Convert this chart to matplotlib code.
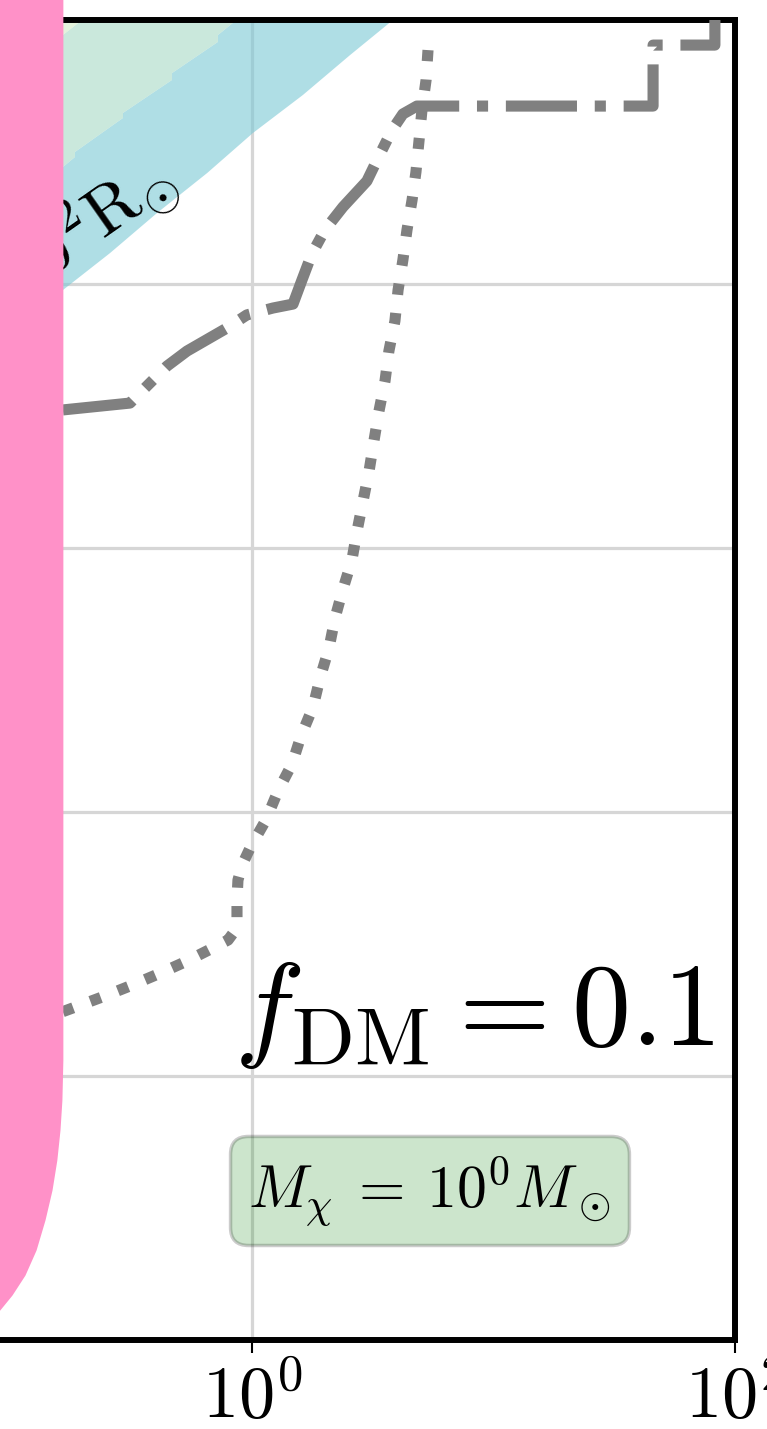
import numpy as np
import matplotlib
matplotlib.use("Agg")
import matplotlib.pyplot as plt
from matplotlib.ticker import FixedLocator, NullLocator, FuncFormatter

plt.rcParams['mathtext.fontset'] = 'cm'
plt.rcParams['font.family'] = ['serif']
plt.rcParams['font.serif'] = ['cmr10', 'DejaVu Serif']
plt.rcParams['axes.formatter.use_mathtext'] = True

# ---- axis ranges (log10 units) ----
xlim_exp = (-2, 2)
ylim_exp = (-3, 2)
xtick_exp = [-2, 0, 2]
ytick_exp = [-3, -2, -1, 0, 1, 2]

# ---- dotted bound (log10 x, log10 y) ----
dot_logx = [0.729, 0.721, 0.704, 0.692, 0.679, 0.663, 0.642, 0.625, 0.605, 0.592,
            0.567, 0.551, 0.526, 0.505, 0.485, 0.460, 0.435, 0.414, 0.377, 0.344,
            0.319, 0.282, 0.253, 0.203, 0.166, 0.108, 0.058, -0.004, -0.041, -0.058,
            -0.062, -0.062, -0.099, -0.162, -0.277, -0.389, -0.505, -0.621, -0.741,
            -0.878, -1.044, -1.292]
dot_logy = [1.886, 1.773, 1.659, 1.545, 1.424, 1.318, 1.205, 1.091, 0.977, 0.860,
            0.746, 0.633, 0.519, 0.405, 0.292, 0.178, 0.064, -0.045, -0.155, -0.265,
            -0.379, -0.492, -0.602, -0.712, -0.818, -0.920, -1.030, -1.129, -1.201, -1.258,
            -1.333, -1.439, -1.485, -1.515, -1.568, -1.614, -1.659, -1.701, -1.742,
            -1.788, -1.837, -1.902]

# ---- dash-dot bound ----
dd_logx = [-0.783, -0.505, -0.431, -0.352, -0.269, -0.104, -0.021, 0.087, 0.170,
           0.207, 0.248, 0.302, 0.377, 0.476, 0.522, 0.580, 0.625, 0.683, 1.661,
           1.661, 1.917, 1.917]
dd_logy = [0.523, 0.549, 0.617, 0.689, 0.746, 0.833, 0.883, 0.909, 0.924,
           1.015, 1.114, 1.205, 1.292, 1.390, 1.477, 1.583, 1.644, 1.674, 1.674,
           1.905, 1.905, 2.100]

# ---- shaded bands ----
blue_lo_logx = [-1.458, -1.044, -0.783, -0.588, -0.393, -0.186, 0.004, 0.211, 0.406, 0.584, 0.700]
blue_lo_logy = [0.477, 0.743, 0.977, 1.117, 1.269, 1.420, 1.572, 1.716, 1.867, 2.000, 2.090]

blue_hi_logx = [-1.458, -1.044, -0.783, -0.733, -0.733, -0.534, -0.534, -0.331, -0.331,
                -0.141, -0.141, -0.079, -0.008]
blue_hi_logy = [0.981, 1.356, 1.443, 1.481, 1.500, 1.629, 1.648, 1.773, 1.799,
                1.917, 1.943, 1.989, 2.090]

pale_lo_logx = [-1.458, -1.044, -0.783, -0.704, -0.629]
pale_lo_logy = [1.564, 1.792, 1.943, 2.000, 2.057]

# ---- excluded region (left edge) ----
pink_logx = [-0.783, -0.783, -0.787, -0.795, -0.808, -0.828, -0.857, -0.894,
             -0.940, -0.994, -1.044, -1.106, -1.168]
pink_logy = [2.250, -1.939, -2.091, -2.205, -2.318, -2.432, -2.545, -2.659,
             -2.754, -2.830, -2.886, -2.943, -3.000]

band_label = r'$10^{2}\mathrm{R}_{\odot}$'
band_label_pos = (-0.306, 1.366)
fdm_label = r'$f_{\rm DM} = 0.1$'
mass_label = r'$M_\chi\:=\:10^{0}M_\odot$'

p10 = lambda a: np.power(10.0, np.asarray(a, dtype=float))

fig = plt.figure(figsize=(7.67, 14.29), dpi=100)
ax = fig.add_axes([-0.3012, 0.06228, 1.2594, 0.92372])
ax.set_xscale('log')
ax.set_yscale('log')
ax.set_xlim(p10(xlim_exp[0]), p10(xlim_exp[1]))
ax.set_ylim(p10(ylim_exp[0]), p10(ylim_exp[1]))

# bands
ax.fill(p10(blue_lo_logx + blue_hi_logx[::-1]), p10(blue_lo_logy + blue_hi_logy[::-1]),
        color='#7bc8d5', alpha=0.6, lw=0, zorder=1)
ax.fill(p10(blue_hi_logx + pale_lo_logx[::-1]), p10(blue_hi_logy + pale_lo_logy[::-1]),
        color='#a7dac5', alpha=0.6, lw=0, zorder=1)
ax.fill(p10(pale_lo_logx + [pale_lo_logx[-1], pale_lo_logx[0]]),
        p10(pale_lo_logy + [2.3, 2.3]),
        color='#d2ebc5', alpha=0.6, lw=0, zorder=1)

ax.text(p10(band_label_pos[0]), p10(band_label_pos[1]), band_label, fontsize=50,
        rotation=35, rotation_mode='anchor', ha='right', va='baseline', zorder=2)

# bounds
ax.plot(p10(dd_logx), p10(dd_logy), ls='-.', color='gray', lw=8, zorder=3)
ax.plot(p10(dot_logx), p10(dot_logy), ls=':', color='gray', lw=8, zorder=3)

# excluded region
ax.fill_betweenx(p10(pink_logy), p10(xlim_exp[0] - 1), p10(pink_logx),
                 color='#ff91c8', lw=0, zorder=5, clip_on=False)

# annotations
ax.text(0.9793, 0.2235, fdm_label, transform=ax.transAxes, fontsize=85,
        ha='right', va='baseline', zorder=6)
ax.text(0.6843, 0.1129, mass_label, transform=ax.transAxes, fontsize=43,
        ha='center', va='center', zorder=6,
        bbox=dict(boxstyle='round,pad=0.3', facecolor='green', alpha=0.2,
                  edgecolor='black', lw=2.5))

# axes styling
ax.xaxis.set_major_locator(FixedLocator(list(p10(xtick_exp))))
ax.yaxis.set_major_locator(FixedLocator(list(p10(ytick_exp))))
ax.xaxis.set_minor_locator(NullLocator())
ax.yaxis.set_minor_locator(NullLocator())
fmt = FuncFormatter(lambda v, p: r'$10^{%d}$' % int(round(np.log10(v))))
ax.xaxis.set_major_formatter(fmt)
ax.tick_params(axis='both', which='major', direction='out', length=9, width=1.5,
               labelsize=52, pad=8)
ax.tick_params(axis='y', labelleft=False)
ax.set_axisbelow(True)
ax.grid(True, which='major', color='#d6d6d6', lw=2.3)
for s in ax.spines.values():
    s.set_linewidth(4.3)

fig.savefig('out.png', dpi=100)
